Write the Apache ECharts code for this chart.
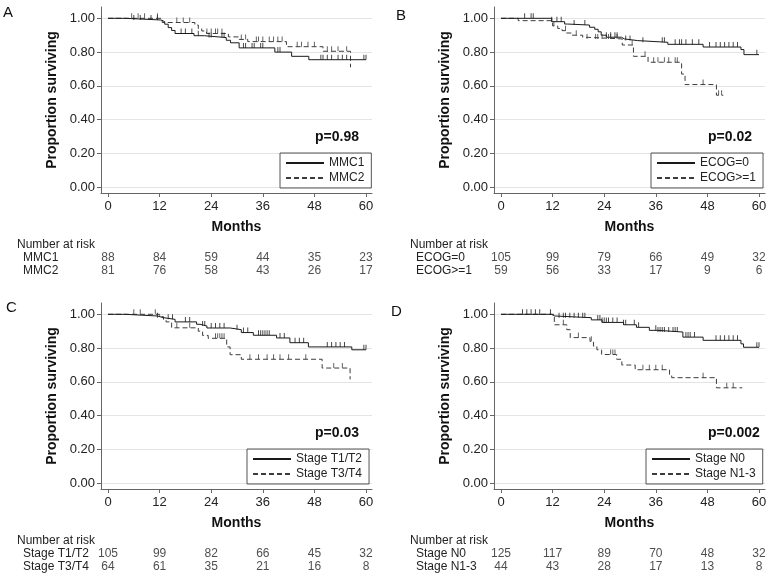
<!DOCTYPE html>
<html><head><meta charset="utf-8">
<script src="https://cdn.jsdelivr.net/npm/echarts@6/dist/echarts.min.js"></script>
<style>html,body{margin:0;padding:0;background:#fff}#c{width:774px;height:578px}</style>
</head><body><div id="c"></div>
<script>
// ---------- data ----------
const monthTicks = [0, 12, 24, 36, 48, 60];
const survTicks = [0, 0.2, 0.4, 0.6, 0.8, 1.0];
const riskTimes = [0, 12, 24, 36, 48, 60];
const panelLetters = ['A', 'B', 'C', 'D'];
const pValues = ['p=0.98', 'p=0.02', 'p=0.03', 'p=0.002'];

// Panel A
const aGroups = ['MMC1', 'MMC2'];
const aSolidSteps = [[0,1],[4,0.99],[12.3,0.98],[13.2,0.965],[14,0.945],[14.8,0.928],[15.6,0.91],[20,0.897],[22.4,0.886],[27.5,0.87],[28.5,0.855],[30.5,0.825],[38.8,0.80],[42.7,0.775],[46.7,0.755],[60,0.755]];
const aDashedSteps = [[0,1],[12.6,0.975],[20.2,0.96],[21,0.94],[21.8,0.925],[22.9,0.91],[28,0.89],[30.5,0.875],[32.5,0.862],[41.5,0.832],[50,0.805],[56.4,0.71]];
const aSolidCensor = [6,7.5,10,11.5,17,18,19.5,21,23.5,24,26.5,27,31.5,32,33.5,34,35.5,36,39.5,40,49.5,50,51,52,53.5,54.5,55.5,59.5,60];
const aDashedCensor = [5.5,7,8.5,11.5,16,17.5,19,23,24,25,25.5,26.5,31,32,34.5,35,36,37.5,38.5,39.5,40.5,44,45,46.5,48,51,52,53.5,55.5];
const aSolidRisk = [88, 84, 59, 44, 35, 23];
const aDashedRisk = [81, 76, 58, 43, 26, 17];

// Panel B
const bGroups = ['ECOG=0', 'ECOG>=1'];
const bSolidSteps = [[0,1],[11.8,0.98],[14.8,0.966],[15.5,0.96],[20.6,0.947],[21.8,0.935],[22.6,0.92],[23.3,0.90],[24.5,0.888],[28,0.878],[28.7,0.868],[31.8,0.858],[38.8,0.846],[47,0.83],[55.8,0.815],[56.5,0.785],[60,0.785]];
const bDashedSteps = [[0,1],[4,0.986],[12,0.955],[13.2,0.94],[14.2,0.927],[15.2,0.913],[16.4,0.90],[19,0.888],[19.8,0.878],[28.2,0.842],[30.8,0.775],[34.2,0.74],[42,0.67],[42.8,0.608],[50.1,0.545],[51.7,0.545]];
const bSolidCensor = [5.5,7,7.5,11.8,13,14,17,19.5,24.5,25.5,26.5,27,29,30,33,37.5,38,40.5,41.5,42,43,44.5,46,48.5,50,51,52,53,54,55,59.5];
const bDashedCensor = [12.3,15,17.5,20,22,22.5,23.5,25,25.5,27,30.5,33.5,35.5,36.5,38,39,40.5,41,47,50.6,51.3];
const bSolidRisk = [105, 99, 79, 66, 49, 32];
const bDashedRisk = [59, 56, 33, 17, 9, 6];

// Panel C
const cGroups = ['Stage T1/T2', 'Stage T3/T4'];
const cSolidSteps = [[0,1],[4,0.99],[11.5,0.98],[12.9,0.97],[15.6,0.955],[20.6,0.941],[21.4,0.931],[23,0.919],[28.4,0.909],[31,0.892],[33.8,0.876],[39.2,0.86],[42.3,0.832],[46.6,0.807],[56.7,0.79],[60,0.79]];
const cDashedSteps = [[0,1],[12,0.986],[12.9,0.97],[13.5,0.955],[14.8,0.92],[21,0.90],[22,0.875],[23.3,0.858],[27.6,0.807],[28.4,0.761],[31,0.734],[49.8,0.682],[56.3,0.615]];
const cSolidCensor = [11.5,14,15,18,19,22,22.5,24,25,26,27,30,31.5,32.5,35,35.5,36,36.5,37,37.5,40,41,43.5,44.5,45.5,51,52,53,54,55,59.5,60];
const cDashedCensor = [6,7.5,11,16,19,25,25.5,26,26.5,27,33,35,37,38.5,40,42,46,52.5,54.5];
const cSolidRisk = [105, 99, 82, 66, 45, 32];
const cDashedRisk = [64, 61, 35, 21, 16, 8];

// Panel D
const dGroups = ['Stage N0', 'Stage N1-3'];
const dSolidSteps = [[0,1],[11.7,0.99],[12.5,0.98],[21,0.967],[23.5,0.952],[28.5,0.938],[31.5,0.923],[34.5,0.905],[36.5,0.895],[42.3,0.865],[47,0.846],[55.8,0.825],[56.4,0.805],[60,0.805]];
const dDashedSteps = [[0,1],[12.4,0.938],[15.3,0.909],[16.1,0.862],[20.7,0.84],[21.5,0.812],[22.3,0.79],[23.4,0.762],[26.9,0.734],[28.1,0.70],[31.2,0.672],[39.2,0.645],[39.7,0.625],[50.1,0.565],[56.1,0.565]];
const dSolidCensor = [5,6,7,8,9,11.5,13.5,14.5,15,16,17,18,19,19.5,22.5,23,23.5,24,24.5,25,26,27,28.5,29,31,32,36,36.5,37,37.5,38,39,40,40.5,41,43,43.5,44,45,50,51,52,53,54,55,59.5,60];
const dDashedCensor = [14.5,18,21,25.5,26,26.5,33,34.5,36,37.5,47,52.5,54];
const dSolidRisk = [125, 117, 89, 70, 48, 32];
const dDashedRisk = [44, 43, 28, 17, 13, 8];

// ---------- build ----------
const panels = [
  {groups:aGroups, steps:[aSolidSteps,aDashedSteps], censor:[aSolidCensor,aDashedCensor], risk:[aSolidRisk,aDashedRisk]},
  {groups:bGroups, steps:[bSolidSteps,bDashedSteps], censor:[bSolidCensor,bDashedCensor], risk:[bSolidRisk,bDashedRisk]},
  {groups:cGroups, steps:[cSolidSteps,cDashedSteps], censor:[cSolidCensor,cDashedCensor], risk:[cSolidRisk,cDashedRisk]},
  {groups:dGroups, steps:[dSolidSteps,dDashedSteps], censor:[dSolidCensor,dDashedCensor], risk:[dSolidRisk,dDashedRisk]}
];

const FONT = '"Liberation Sans", Arial, sans-serif';
const XMIN = -7 / 4.3, XMAX = 60 + 6 / 4.3;
const YMIN = -5.7 / 169, YMAX = 1 + 11.3 / 169;
const lineColors = ['#1a1a1a', '#3c3c3c'];
const lineTypes = ['solid', [5, 3]];
const letterPos = [[3,5],[396,8],[6,300],[391,304]];
const legendLeft = [280, 651, 247, 646];

function survAt(steps, t) {
  let v = steps[0][1];
  for (const [x, y] of steps) { if (x <= t) v = y; else break; }
  return v;
}

const option = {
  animation: false,
  backgroundColor: '#fff',
  textStyle: {fontFamily: FONT},
  title: [], legend: [], grid: [], xAxis: [], yAxis: [], series: []
};

panels.forEach((p, i) => {
  const dx = (i % 2) * 393, dy = Math.floor(i / 2) * 296;
  const gi = option.grid.length;
  option.grid.push({left: 101 + dx, top: 7 + dy, width: 271, height: 186});
  option.grid.push({left: 101 + dx, top: 250.9 + dy, width: 271, height: 26.4});

  option.xAxis.push({
    gridIndex: gi, type: 'value', min: XMIN, max: XMAX,
    axisLine: {show: true, onZero: false, lineStyle: {color: '#666', width: 1}},
    axisTick: {show: true, customValues: monthTicks, length: 4, lineStyle: {color: '#666'}},
    axisLabel: {customValues: monthTicks, margin: 7, fontSize: 13, color: '#222', fontFamily: FONT},
    splitLine: {show: false},
    name: 'Months', nameLocation: 'middle', nameGap: 27,
    nameTextStyle: {fontSize: 14, fontWeight: 'bold', color: '#111', fontFamily: FONT}
  });
  option.yAxis.push({
    gridIndex: gi, type: 'value', min: YMIN, max: YMAX,
    axisLine: {show: true, onZero: false, lineStyle: {color: '#666', width: 1}},
    axisTick: {show: true, customValues: survTicks, length: 4, lineStyle: {color: '#666'}},
    axisLabel: {customValues: survTicks, formatter: v => v.toFixed(2), margin: 6, fontSize: 13, color: '#222', fontFamily: FONT},
    splitLine: {show: true, lineStyle: {color: '#e4e4e4', width: 1}},
    name: 'Proportion surviving', nameLocation: 'middle', nameGap: 42,
    nameTextStyle: {fontSize: 14, fontWeight: 'bold', color: '#111', fontFamily: FONT}
  });
  option.xAxis.push({gridIndex: gi + 1, type: 'value', min: XMIN, max: XMAX, show: false});
  option.yAxis.push({
    gridIndex: gi + 1, type: 'category', data: p.groups, inverse: true,
    axisLine: {show: false}, axisTick: {show: false}, splitLine: {show: false},
    axisLabel: {interval: 0, align: 'left', margin: 78, fontSize: 12, color: '#222', fontFamily: FONT}
  });

  for (let k = 0; k < 2; k++) {
    option.series.push({
      type: 'line', name: p.groups[k], xAxisIndex: gi, yAxisIndex: gi,
      data: p.steps[k], step: 'end', symbol: 'none', showSymbol: false, silent: true,
      lineStyle: {color: lineColors[k], width: 1, type: lineTypes[k]},
      itemStyle: {color: lineColors[k]}, z: 3 - k
    });
    option.series.push({
      type: 'scatter', xAxisIndex: gi, yAxisIndex: gi, silent: true,
      data: p.censor[k].map(c => [c, survAt(p.steps[k], c)]),
      symbol: 'rect', symbolSize: [1, 5], symbolOffset: [0, -2.5],
      itemStyle: {color: lineColors[k]}, z: 3
    });
  }
  const riskData = [];
  for (let k = 0; k < 2; k++) {
    riskTimes.forEach((t, j) => riskData.push([t, p.groups[k], p.risk[k][j]]));
  }
  option.series.push({
    type: 'scatter', xAxisIndex: gi + 1, yAxisIndex: gi + 1, silent: true,
    data: riskData, symbolSize: 1, itemStyle: {color: 'rgba(0,0,0,0)'},
    label: {show: true, position: 'inside', formatter: q => String(q.value[2]), fontSize: 12, color: '#222', fontFamily: FONT}
  });

  option.title.push({text: panelLetters[i], left: letterPos[i][0], top: letterPos[i][1], padding: 0,
    textStyle: {fontSize: 15, fontWeight: 'normal', color: '#111', fontFamily: FONT}});
  option.title.push({text: pValues[i], left: 315 + dx, top: 130 + dy, padding: 0,
    textStyle: {fontSize: 14, fontWeight: 'bold', color: '#111', fontFamily: FONT}});
  option.title.push({text: 'Number at risk', left: 17 + dx, top: 239 + dy, padding: 0,
    textStyle: {fontSize: 12, fontWeight: 'normal', color: '#222', fontFamily: FONT}});

  option.legend.push({
    data: p.groups, orient: 'vertical', left: legendLeft[i], top: 153 + dy,
    itemWidth: 38, itemHeight: 12, itemGap: 3, selectedMode: false,
    itemStyle: {opacity: 0},
    borderColor: '#555', borderWidth: 1, borderRadius: 0, padding: [4, 7, 4, 5],
    textStyle: {fontSize: 12, color: '#222', fontFamily: FONT}
  });
});

const chart = echarts.init(document.getElementById('c'), null, {renderer: 'canvas'});
chart.setOption(option);
</script>
</body></html>
